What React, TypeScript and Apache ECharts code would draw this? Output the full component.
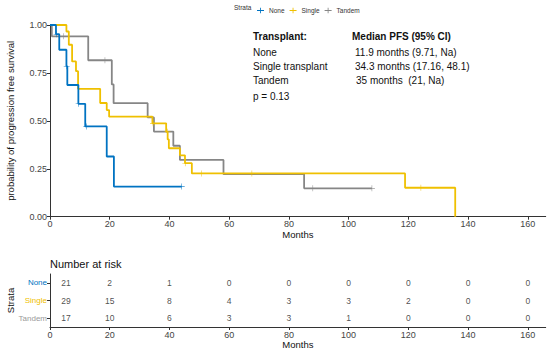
import React, { useEffect, useRef } from "react";
import * as echarts from "echarts";

// ---- data ----
const noneTimes = [0, 2.0, 3.1, 5.5, 5.8, 9.5, 11.8, 19.0, 21.4, 44.1];
const noneSurv = [1, 0.952, 0.871, 0.785, 0.687, 0.589, 0.471, 0.314, 0.157, 0.157];
const noneCensor = [2.2, 5.6, 9.6, 12.2, 44.1];

const singleTimes = [0, 5.5, 6.3, 7.4, 8.7, 9.4, 16.8, 19.0, 19.8, 34.3, 38.9, 39.4, 39.8, 43.5, 45.2, 47.5, 118.9, 135.7];
const singleSurv = [1, 0.966, 0.897, 0.81, 0.759, 0.667, 0.593, 0.556, 0.522, 0.487, 0.443, 0.403, 0.357, 0.32, 0.279, 0.226, 0.151, 0];
const singleCensor = [34.5, 39.3, 45.3, 50.8, 67.6, 124.2];

const tandemTimes = [0, 0.6, 12.8, 20.7, 21.3, 32.7, 34.8, 41.3, 43.5, 58.1, 85.1, 107.8];
const tandemSurv = [1, 0.941, 0.816, 0.69, 0.592, 0.518, 0.444, 0.37, 0.296, 0.222, 0.148, 0.148];
const tandemCensor = [4.5, 18.4, 88.0, 107.8];

const strata = ["None", "Single", "Tandem"];
const colors = ["#0073C2", "#EFC000", "#868686"];

const xTicks = [0, 20, 40, 60, 80, 100, 120, 140, 160];

const riskTimes = [0, 20, 40, 60, 80, 100, 120, 140, 160];
const riskNone = [21, 2, 1, 0, 0, 0, 0, 0, 0];
const riskSingle = [29, 15, 8, 4, 3, 3, 2, 0, 0];
const riskTandem = [17, 10, 6, 3, 3, 1, 0, 0, 0];

const tableHeader = ["Transplant:", "Median PFS (95% CI)"];
const tableGroups = ["None", "Single transplant", "Tandem"];
const tableMedians = ["11.9 months (9.71, Na)", "34.3 months (17.16, 48.1)", "35 months  (21, Na)"];
const pValueText = "p = 0.13";

const plusPath = "path://M0,4.3h10v1.4H0zM4.4,1h1.2v8h-1.2z";
const censorPath = "path://M0,4.5h10v1H0zM4.5,0h1v10h-1z";

function survAt(times: number[], surv: number[], t: number) {
  let s = surv[0];
  for (let i = 0; i < times.length; i++) if (times[i] <= t) s = surv[i];
  return s;
}

export default function App() {
  const ref = useRef<HTMLDivElement>(null);
  useEffect(() => {
    if (!ref.current) return;
    const chart = echarts.init(ref.current, null, { renderer: "svg" });
    const font = "Liberation Sans";
    const axisCol = "#333333";
    const curves = [
      [noneTimes, noneSurv, noneCensor],
      [singleTimes, singleSurv, singleCensor],
      [tandemTimes, tandemSurv, tandemCensor],
    ];
    const risks = [riskNone, riskSingle, riskTandem];
    const series: any[] = [];
    curves.forEach((c, k) => {
      const [times, surv, cens] = c as number[][];
      series.push({
        name: strata[k],
        type: "line",
        step: "end",
        xAxisIndex: 0,
        yAxisIndex: 0,
        symbol: "none",
        data: times.map((t, i) => [t, surv[i]]),
        lineStyle: { color: colors[k], width: 1.8 },
        itemStyle: { color: colors[k] },
        z: 3 - k,
      });
      series.push({
        name: strata[k] + " censor",
        type: "scatter",
        xAxisIndex: 0,
        yAxisIndex: 0,
        symbol: censorPath,
        symbolSize: 6,
        data: cens.map((t) => [t, survAt(times, surv, t)]),
        itemStyle: { color: colors[k] },
        z: 4,
      });
    });
    const riskLabel = {
      show: true,
      position: "inside",
      fontSize: 8.5,
      fontFamily: font,
      color: "#222",
      formatter: (p: any) => String(p.data[2]),
    };
    // first column (time 0) is drawn shifted right, as in the reference
    series.push({
      name: "risk start",
      type: "scatter",
      xAxisIndex: 1,
      yAxisIndex: 1,
      symbol: "circle",
      symbolSize: 1,
      itemStyle: { color: "rgba(0,0,0,0)" },
      data: risks.map((r, k) => [riskTimes[0], strata[k], r[0]]),
      label: riskLabel,
      labelLayout: { hideOverlap: false, dx: 16 },
    });
    risks.forEach((r, k) => {
      series.push({
        name: strata[k] + " risk",
        type: "scatter",
        xAxisIndex: 1,
        yAxisIndex: 1,
        symbol: "circle",
        symbolSize: 1,
        itemStyle: { color: "rgba(0,0,0,0)" },
        data: riskTimes.slice(1).map((t, i) => [t, strata[k], r[i + 1]]),
        label: riskLabel,
        labelLayout: { hideOverlap: false },
      });
    });

    const txt = (x: number, y: number, text: string, bold = false) => ({
      type: "text",
      style: {
        x,
        y,
        text,
        fill: "#111",
        font: `${bold ? "bold " : ""}10px ${font}`,
        textVerticalAlign: "middle",
      },
    });

    const xAxisCommon = (gi: number) => ({
      type: "value",
      gridIndex: gi,
      min: 0,
      max: 166,
      name: "Months",
      nameLocation: "middle",
      nameGap: 12.5,
      nameMoveOverlap: false,
      nameTextStyle: { fontSize: 9.5, color: "#111", fontFamily: font },
      axisLine: { show: true, lineStyle: { color: axisCol, width: 1 } },
      axisTick: { show: true, length: 3, customValues: xTicks, lineStyle: { color: axisCol } },
      axisLabel: { customValues: xTicks, fontSize: 9, color: "#444", margin: 3, fontFamily: font },
      splitLine: { show: false },
    });

    chart.setOption({
      animation: false,
      textStyle: { fontFamily: font },
      legend: {
        data: strata,
        left: 252,
        top: 2,
        icon: plusPath,
        itemWidth: 7,
        itemHeight: 7,
        itemGap: 5,
        textStyle: { fontSize: 6.5, color: "#333", fontFamily: font },
      },
      grid: [
        { left: 50, top: 25, width: 495.7, height: 191.7, containLabel: false, outerBoundsMode: "none" },
        { left: 50, top: 274, width: 495.7, height: 53, containLabel: false, outerBoundsMode: "none" },
      ],
      xAxis: [xAxisCommon(0), xAxisCommon(1)],
      yAxis: [
        {
          type: "value",
          gridIndex: 0,
          min: 0,
          max: 1,
          interval: 0.25,
          name: "probability of progression free survival",
          nameLocation: "middle",
          nameRotate: 90,
          nameGap: 35,
          nameMoveOverlap: false,
          nameTextStyle: { fontSize: 9.5, color: "#111", fontFamily: font },
          axisLine: { show: true, lineStyle: { color: axisCol, width: 1 } },
          axisTick: { show: true, length: 3, lineStyle: { color: axisCol } },
          axisLabel: {
            fontSize: 9,
            color: "#444",
            margin: 3,
            fontFamily: font,
            formatter: (v: number) => v.toFixed(2),
          },
          splitLine: { show: false },
        },
        {
          type: "category",
          gridIndex: 1,
          data: ["Tandem", "Single", "None"],
          name: "Strata",
          nameLocation: "middle",
          nameRotate: 90,
          nameGap: 35,
          nameMoveOverlap: false,
          nameTextStyle: { fontSize: 9.5, color: "#111", fontFamily: font },
          axisLine: { show: true, lineStyle: { color: axisCol, width: 1 } },
          axisTick: { show: true, length: 3, alignWithLabel: true, lineStyle: { color: axisCol } },
          axisLabel: {
            fontSize: 8,
            margin: 3,
            fontFamily: font,
            formatter: (v: string) => `{${v}|${v}}`,
            rich: {
              None: { color: colors[0], fontSize: 8, fontFamily: font },
              Single: { color: colors[1], fontSize: 8, fontFamily: font },
              Tandem: { color: "#9a9a9a", fontSize: 8, fontFamily: font },
            },
          },
          splitLine: { show: false },
        },
      ],
      series,
      graphic: [
        {
          type: "text",
          style: { x: 234, y: 7, text: "Strata", fill: "#333", font: `6.5px ${font}`, textVerticalAlign: "middle" },
        },
        txt(253, 36, tableHeader[0], true),
        txt(352, 36, tableHeader[1], true),
        txt(253, 52, tableGroups[0]),
        txt(355, 52, tableMedians[0]),
        txt(253, 66, tableGroups[1]),
        txt(355, 66, tableMedians[1]),
        txt(253, 80, tableGroups[2]),
        txt(356, 80, tableMedians[2]),
        txt(253, 96, pValueText),
        {
          type: "text",
          style: { x: 50, y: 264, text: "Number at risk", fill: "#111", font: `11px ${font}`, textVerticalAlign: "middle" },
        },
      ],
    });
    return () => chart.dispose();
  }, []);
  return <div ref={ref} style={{ width: 550, height: 350, position: "absolute", left: 0, top: 0 }} />;
}
